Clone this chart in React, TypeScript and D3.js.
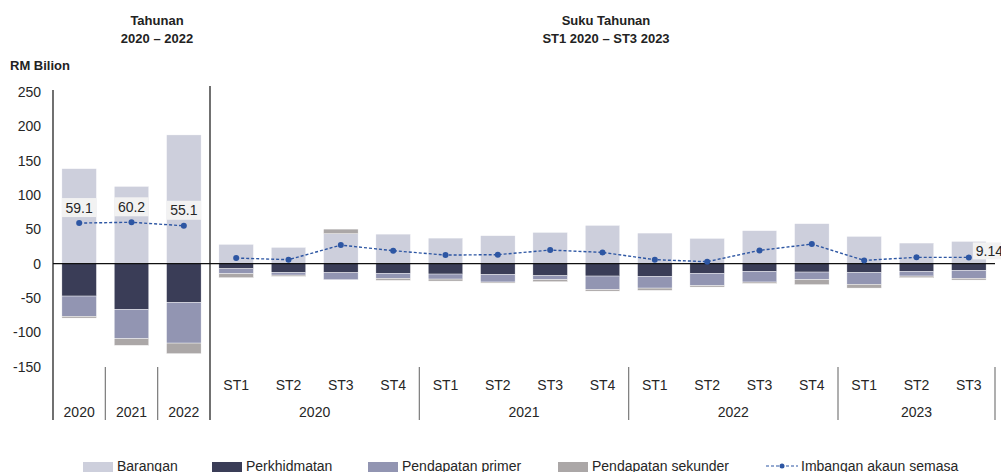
import React from "react";
import * as d3 from "d3";

// categories: 3 annual + 15 quarterly
const tahun = ["2020", "2021", "2022"];
const suku = ["ST1", "ST2", "ST3", "ST4", "ST1", "ST2", "ST3", "ST4", "ST1", "ST2", "ST3", "ST4", "ST1", "ST2", "ST3"];
const sukuTahun = ["2020", "2021", "2022", "2023"];

const barangan = [138.2, 112.4, 187.3, 28.1, 23.7, 43.6, 43.0, 37.2, 40.7, 45.5, 55.7, 44.5, 36.8, 48.0, 58.2, 39.7, 30.0, 32.4];
const perkhidmatan = [-47.1, -66.5, -56.3, -7.3, -12.7, -13.1, -14.1, -15.1, -15.6, -17.5, -18.0, -18.5, -14.1, -11.2, -12.2, -12.7, -11.2, -9.7];
const pendapatanPrimer = [-29.6, -42.6, -59.2, -7.2, -3.9, -10.2, -7.3, -7.3, -11.1, -5.8, -19.8, -17.0, -17.9, -15.5, -11.1, -17.4, -6.8, -11.7];
const pendapatanSekunder = [-2.4, -9.7, -15.4, -5.9, -1.9, 6.7, -2.9, -2.9, -1.5, -2.9, -2.1, -3.3, -2.0, -2.0, -7.2, -5.4, -2.4, -2.4];
const imbangan = [59.1, 60.2, 55.1, 8.2, 5.8, 27.0, 18.9, 12.5, 13.1, 19.8, 16.4, 5.8, 2.9, 19.3, 28.5, 4.8, 9.2, 9.14];

const yTicks = [250, 200, 150, 100, 50, 0, -50, -100, -150];

const seriesNames = ["Barangan", "Perkhidmatan", "Pendapatan primer", "Pendapatan sekunder"];
const colors = ["#cdcfdc", "#3a3d57", "#9295b2", "#aba7a7"];
const lineColor = "#2d56a3";
const font = "'Liberation Sans', Arial, sans-serif";

export default function App() {
  const width = 1001;
  const height = 472;
  const keys = [...tahun.map((t) => "Y" + t), ...suku.map((s, i) => "Q" + i)];

  const rows = keys.map((k, i) => ({
    key: k,
    Barangan: barangan[i],
    Perkhidmatan: perkhidmatan[i],
    "Pendapatan primer": pendapatanPrimer[i],
    "Pendapatan sekunder": pendapatanSekunder[i],
  }));

  const x = d3.scaleBand().domain(keys).range([53, 995]).paddingInner(0.34).paddingOuter(0.17);
  const step = x.step();
  const y = d3.scaleLinear().domain([-150, 250]).range([366.8, 91.8]);

  const stacked = d3.stack<any>().keys(seriesNames).offset(d3.stackOffsetDiverging)(rows);

  const cx = (i: number) => (x(keys[i]) as number) + x.bandwidth() / 2;

  const line = d3
    .line<number>()
    .x((d, i) => cx(i))
    .y((d) => y(d));

  const annualPts = imbangan.slice(0, 3);
  const quarterPts = imbangan.slice(3);
  const annualLine = d3.line<number>().x((d, i) => cx(i)).y((d) => y(d))(annualPts);
  const quarterLine = d3.line<number>().x((d, i) => cx(i + 3)).y((d) => y(d))(quarterPts);

  const leftEdge = x.range()[0];
  const sepX = leftEdge + step * 3;
  const catSeps = [1, 2, 7, 11, 15, 18].map((n) => leftEdge + step * n);

  const legendItems = [
    { name: "Barangan", x: 83, type: "rect", color: colors[0] },
    { name: "Perkhidmatan", x: 212, type: "rect", color: colors[1] },
    { name: "Pendapatan primer", x: 368, type: "rect", color: colors[2] },
    { name: "Pendapatan sekunder", x: 558, type: "rect", color: colors[3] },
    { name: "Imbangan akaun semasa", x: 766, type: "line", color: lineColor },
  ];

  const last = imbangan.length - 1;

  return (
    <svg
      width={width}
      height={height}
      style={{ position: "absolute", left: 0, top: 0, background: "#fff" }}
      fontFamily={font}
    >
      {/* titles */}
      <g fontWeight="bold" fontSize={13} fill="#222" textAnchor="middle">
        <text x={157} y={25}>Tahunan</text>
        <text x={157} y={43}>2020 – 2022</text>
        <text x={606} y={25}>Suku Tahunan</text>
        <text x={606} y={43}>ST1 2020 – ST3 2023</text>
        <text x={10} y={70} textAnchor="start">RM Bilion</text>
      </g>

      {/* y ticks */}
      <g fontSize={14} fill="#262626" textAnchor="end">
        {yTicks.map((t) => (
          <text key={t} x={41} y={y(t) + 5}>{t}</text>
        ))}
      </g>

      {/* bars */}
      {stacked.map((s, si) => (
        <g key={s.key} fill={colors[si]}>
          {s.map((d, i) => (
            <rect
              key={i}
              x={x(keys[i])}
              width={x.bandwidth()}
              y={y(Math.max(d[0], d[1]))}
              height={Math.abs(y(d[0]) - y(d[1]))}
              stroke="#fff"
              strokeWidth={0.4}
            />
          ))}
        </g>
      ))}

      {/* zero line */}
      <line x1={leftEdge} x2={995} y1={y(0)} y2={y(0)} stroke="#111" strokeWidth={1.2} />

      {/* axes and separators */}
      <line x1={leftEdge} x2={leftEdge} y1={90} y2={420} stroke="#111" strokeWidth={1.2} />
      <line x1={sepX} x2={sepX} y1={86} y2={420} stroke="#111" strokeWidth={1.2} />
      {catSeps.map((sx, i) => (
        <line key={i} x1={sx} x2={sx} y1={367} y2={420} stroke="#7a7a7a" strokeWidth={1.2} />
      ))}

      {/* x labels */}
      <g fontSize={14} fill="#262626" textAnchor="middle">
        {tahun.map((t, i) => (
          <text key={"t" + i} x={cx(i)} y={417}>{t}</text>
        ))}
        {suku.map((s, i) => (
          <text key={"s" + i} x={cx(i + 3)} y={390}>{s}</text>
        ))}
        {sukuTahun.map((t, i) => {
          const start = leftEdge + step * (3 + i * 4);
          const n = i === 3 ? 3 : 4;
          return (
            <text key={"y" + i} x={start + (step * n) / 2} y={417}>{t}</text>
          );
        })}
      </g>

      {/* balance lines */}
      <path d={annualLine || ""} fill="none" stroke={lineColor} strokeWidth={1.4} strokeDasharray="3,2" />
      <path d={quarterLine || ""} fill="none" stroke={lineColor} strokeWidth={1.4} strokeDasharray="3,2" />
      {imbangan.map((v, i) => (
        <circle key={i} cx={cx(i)} cy={y(v)} r={3} fill={lineColor} />
      ))}

      {/* data labels */}
      {annualPts.map((v, i) => (
        <g key={"l" + i}>
          <rect x={x(keys[i])} y={y(v) - 25} width={x.bandwidth()} height={19} fill="#f2f2f2" />
          <text x={cx(i)} y={y(v) - 10.5} fontSize={14} fill="#262626" textAnchor="middle">
            {v.toFixed(1)}
          </text>
        </g>
      ))}
      <rect x={cx(last) + 4} y={y(imbangan[last]) - 15} width={32} height={17} fill="#f2f2f2" />
      <text x={cx(last) + 7} y={y(imbangan[last]) - 1.5} fontSize={14} fill="#262626">
        {imbangan[last]}
      </text>

      {/* legend */}
      <g fontSize={14} fill="#262626">
        {legendItems.map((l) => (
          <g key={l.name}>
            {l.type === "rect" ? (
              <rect x={l.x} y={462} width={30} height={10} fill={l.color} />
            ) : (
              <g>
                <line x1={l.x} x2={l.x + 32} y1={466} y2={466} stroke={l.color} strokeWidth={1.2} strokeDasharray="3,2" />
                <circle cx={l.x + 16} cy={466} r={2.5} fill={l.color} />
              </g>
            )}
            <text x={l.x + (l.type === "rect" ? 34 : 35)} y={471}>{l.name}</text>
          </g>
        ))}
      </g>
    </svg>
  );
}
